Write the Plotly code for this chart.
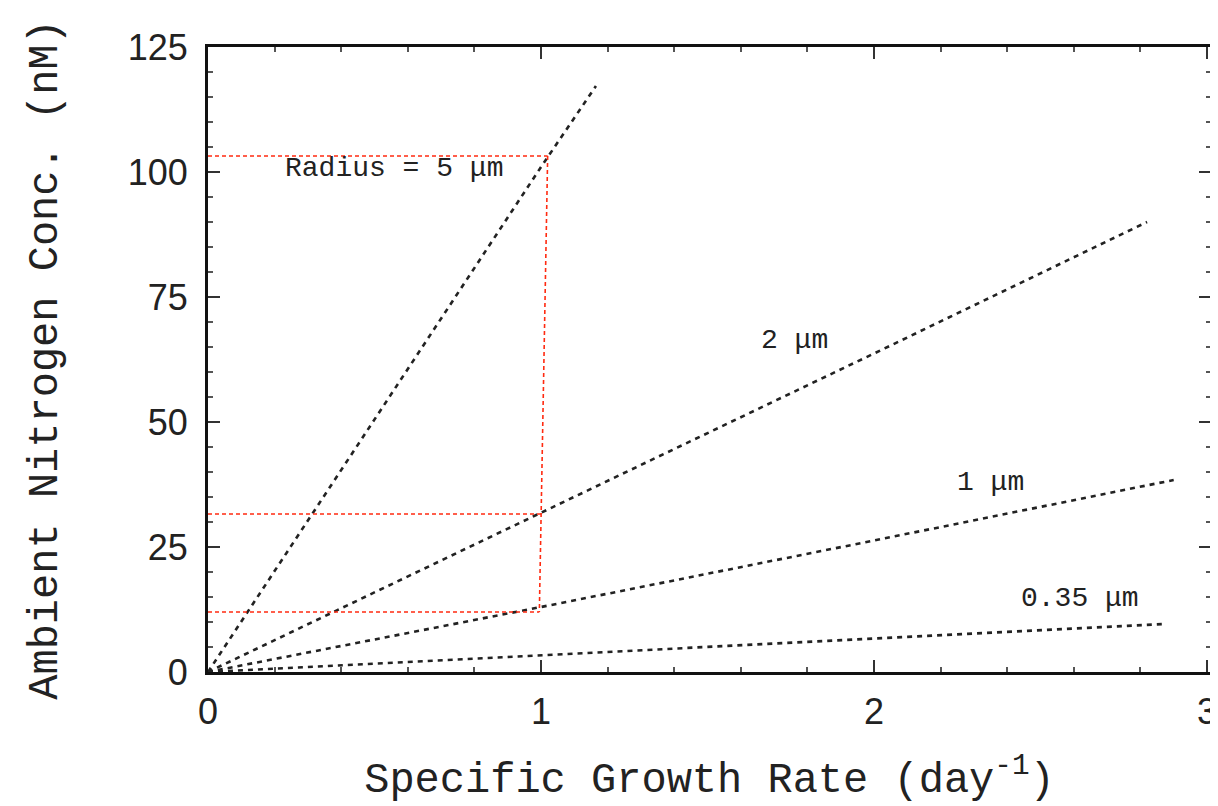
import plotly.graph_objects as go

# Model curves: growth rate (day^-1) vs ambient N (nM)
radius_labels = ["Radius = 5 \u03bcm", "2 \u03bcm", "1 \u03bcm", "0.35 \u03bcm"]
curve_x = [[0, 0.5, 1.0, 1.165],
           [0, 1.0, 2.0, 2.82],
           [0, 1.0, 2.0, 2.90],
           [0, 1.0, 2.0, 2.87]]
curve_y = [[0, 50.5, 101.0, 117.2],
           [0, 31.8, 63.7, 90.0],
           [0, 13.0, 26.3, 38.4],
           [0, 3.35, 6.7, 9.6]]
label_x = [0.56, 1.76, 2.35, 2.62]
label_y = [100.8, 66.4, 38.0, 14.8]

# Red guide lines (horizontal at each concentration, vertical at growth = 1)
guide_y = [103.2, 31.6, 12.0]
guide_x_end = [1.02, 1.0, 0.995]

fig = go.Figure()

for xs, ys in zip(curve_x, curve_y):
    fig.add_trace(go.Scatter(x=xs, y=ys, mode="lines",
                             line=dict(color="#222222", width=2.6, dash="5px,5px"),
                             showlegend=False, hoverinfo="skip"))

red = "#ff2a10"
for gy, gx in zip(guide_y, guide_x_end):
    fig.add_trace(go.Scatter(x=[0, gx], y=[gy, gy], mode="lines",
                             line=dict(color=red, width=1.6, dash="4px,3px"),
                             showlegend=False, hoverinfo="skip"))
fig.add_trace(go.Scatter(x=[guide_x_end[0], guide_x_end[2]], y=[guide_y[0], guide_y[2]],
                         mode="lines", line=dict(color=red, width=1.6, dash="4px,3px"),
                         showlegend=False, hoverinfo="skip"))

for t, lx, ly in zip(radius_labels, label_x, label_y):
    fig.add_annotation(x=lx, y=ly, text=t, showarrow=False,
                       font=dict(family="Liberation Mono", size=28, color="#222222"))

axis_common = dict(showline=True, linecolor="#111111", linewidth=3, mirror="ticks",
                   ticks="inside", ticklen=12, tickwidth=2, tickcolor="#333333",
                   showgrid=False, zeroline=False, automargin=False,
                   tickfont=dict(family="Liberation Sans", size=36, color="#222222"))

fig.update_xaxes(range=[0, 3.012], tickvals=[0, 1, 2, 3], ticklabelstandoff=6,
                 minor=dict(dtick=0.2, ticks="inside", ticklen=5, tickcolor="#555555"),
                 title=dict(text="Specific Growth Rate (day<sup>-1</sup>)", standoff=32,
                            font=dict(family="Liberation Mono", size=42, color="#222222")),
                 **axis_common)
fig.update_yaxes(range=[0, 125], tickvals=[0, 25, 50, 75, 100, 125], ticklabelstandoff=10,
                 minor=dict(dtick=5, ticks="inside", ticklen=5, tickcolor="#555555"),
                 title=dict(text="Ambient Nitrogen Conc. (nM)", standoff=58,
                            font=dict(family="Liberation Mono", size=42, color="#222222")),
                 **axis_common)

fig.update_layout(width=1210, height=798, plot_bgcolor="white", paper_bgcolor="white",
                  margin=dict(l=200, r=7, t=39, b=134))

fig.write_html("out.html")
